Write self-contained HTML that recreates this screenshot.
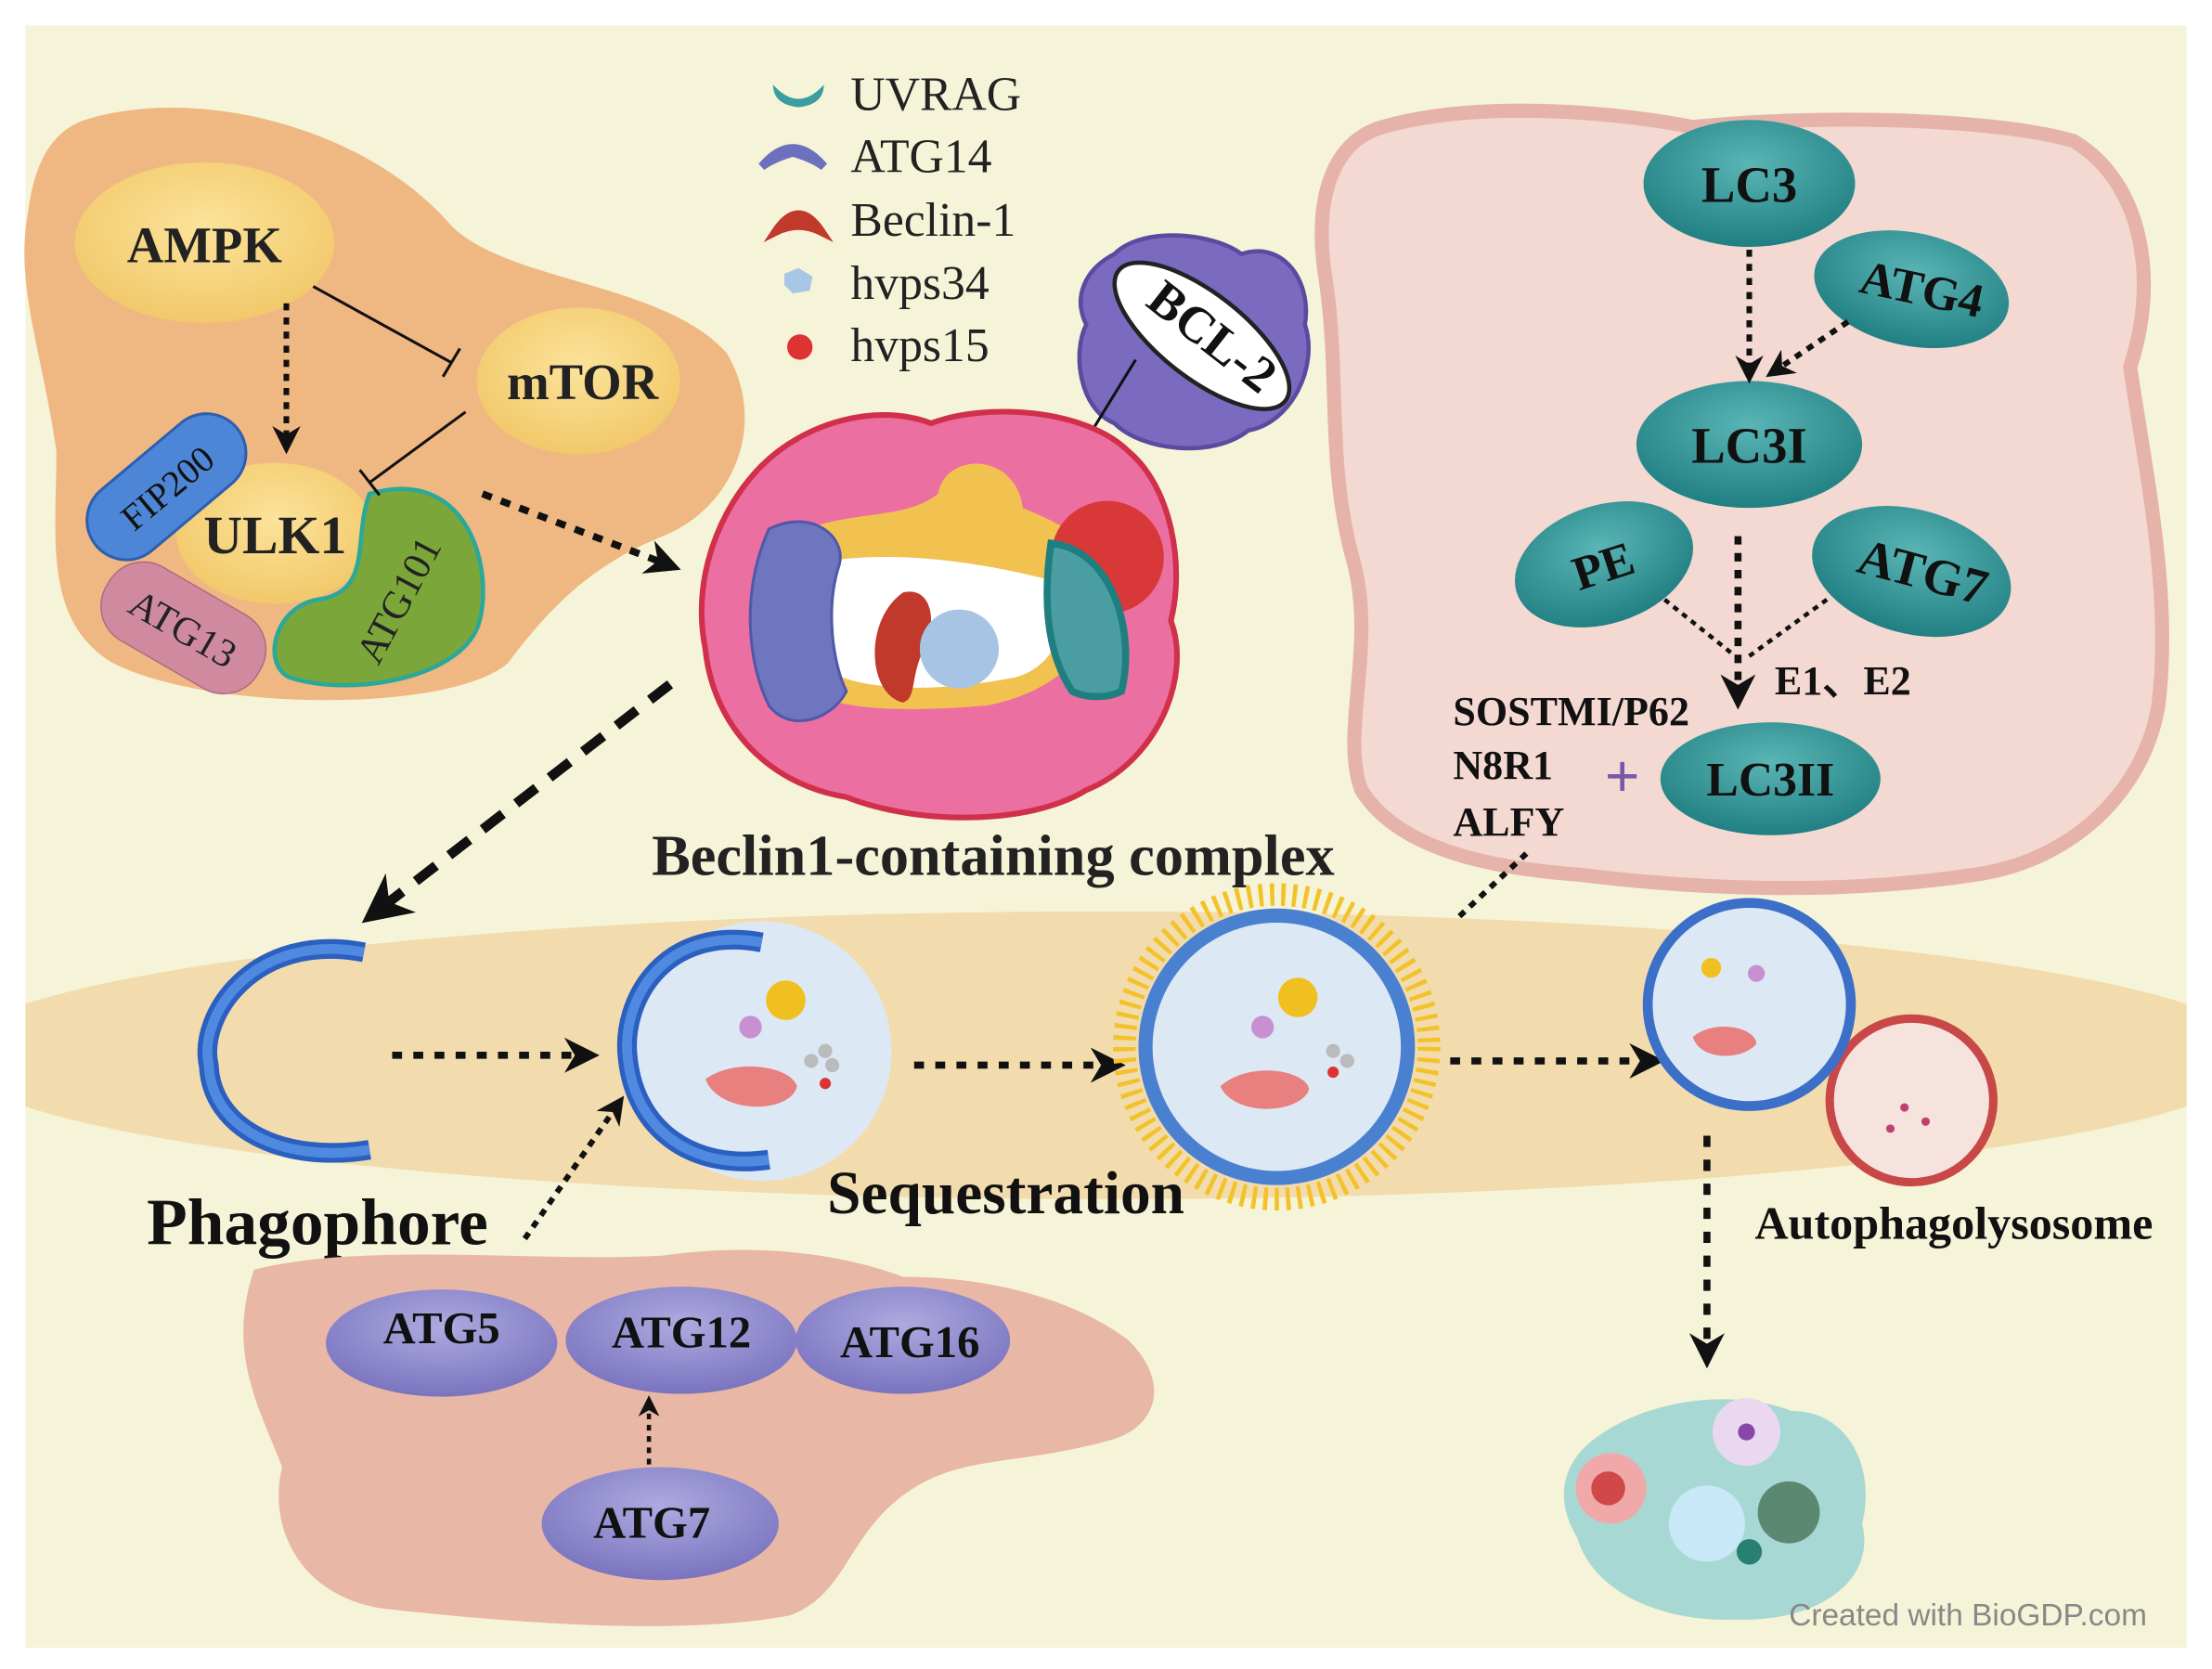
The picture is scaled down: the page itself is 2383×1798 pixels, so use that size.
<!DOCTYPE html>
<html><head><meta charset="utf-8"><style>
html,body{margin:0;padding:0;background:#fff}
svg{display:block}
text{font-family:"Liberation Serif",serif;font-weight:bold}
</style></head><body>
<svg width="2383" height="1798" viewBox="0 0 1568 1183" xmlns="http://www.w3.org/2000/svg">
<defs>
<marker id="ah" viewBox="0 0 10 10" refX="8" refY="5" markerWidth="5" markerHeight="5" orient="auto"><path d="M0,0 L10,5 L0,10 L3,5z" fill="#111"/></marker>
<radialGradient id="yel" cx="0.5" cy="0.4" r="0.6"><stop offset="0" stop-color="#fbe39a"/><stop offset="1" stop-color="#f2c86a"/></radialGradient>
<radialGradient id="teal" cx="0.5" cy="0.35" r="0.65"><stop offset="0" stop-color="#5ab5b5"/><stop offset="1" stop-color="#207f82"/></radialGradient>
<radialGradient id="pur" cx="0.5" cy="0.35" r="0.65"><stop offset="0" stop-color="#aeaae0"/><stop offset="1" stop-color="#7a74bf"/></radialGradient>
<clipPath id="bg"><rect x="18" y="18" width="1532" height="1150"/></clipPath>
</defs>
<rect x="0" y="0" width="1568" height="1183" fill="#fff"/>
<rect x="18" y="18" width="1532" height="1150" fill="#f6f4d8"/>

<!-- orange blob -->
<path d="M60,85 C140,60 260,90 320,160 C360,200 470,200 515,250 C545,300 520,360 470,380 C420,400 390,430 360,470 C320,505 150,505 80,470 C30,440 40,380 40,320 C30,250 10,200 20,150 C25,110 40,92 60,85z" fill="#efb882"/>
<ellipse cx="145" cy="172" rx="92" ry="57" fill="url(#yel)"/>
<text x="145" y="186" font-size="36" text-anchor="middle" fill="#222">AMPK</text>
<ellipse cx="410" cy="270" rx="72" ry="52" fill="url(#yel)"/>
<text x="413" y="283" font-size="36" text-anchor="middle" fill="#222">mTOR</text>
<ellipse cx="195" cy="378" rx="70" ry="50" fill="url(#yel)"/>
<g transform="translate(118,345) rotate(-40)"><rect x="-65" y="-28" width="130" height="56" rx="28" fill="#4d86d6" stroke="#2c5fb0" stroke-width="2"/><text x="0" y="10" font-size="26" text-anchor="middle" fill="#111" style="font-weight:normal">FIP200</text></g>
<text x="195" y="392" font-size="38" text-anchor="middle" fill="#222">ULK1</text>
<g transform="translate(130,445) rotate(30)"><rect x="-62" y="-30" width="124" height="60" rx="28" fill="#d08aa0" stroke="#b06a82"/><text x="0" y="10" font-size="28" text-anchor="middle" fill="#222" style="font-weight:normal">ATG13</text></g>
<path d="M262,350 C330,330 350,400 340,440 C330,480 250,495 205,480 C185,470 195,430 225,425 C265,420 250,380 262,350z" fill="#7ba63a" stroke="#2aa89a" stroke-width="3"/>
<text transform="translate(282,425) rotate(-62)" x="0" y="10" font-size="28" text-anchor="middle" fill="#222" style="font-weight:normal">ATG101</text>
<line x1="203" y1="215" x2="203" y2="318" stroke="#111" stroke-width="4" stroke-dasharray="5,5" marker-end="url(#ah)"/>
<line x1="222" y1="203" x2="320" y2="257" stroke="#111" stroke-width="2"/>
<line x1="314" y1="267" x2="326" y2="247" stroke="#111" stroke-width="2"/>
<line x1="330" y1="292" x2="262" y2="342" stroke="#111" stroke-width="2"/>
<line x1="255" y1="333" x2="269" y2="351" stroke="#111" stroke-width="2"/>
<line x1="342" y1="350" x2="478" y2="402" stroke="#111" stroke-width="5" stroke-dasharray="7,7" marker-end="url(#ah)"/>

<!-- legend -->
<path d="M548,60 Q566,80 584,60 Q584,74 566,76 Q548,74 548,60z" fill="#3a9ea0"/>
<text x="603" y="78" font-size="34" fill="#222" style="font-weight:normal">UVRAG</text>
<path d="M540,118 Q562,92 584,118 Q576,112 562,108 Q548,112 540,118z" fill="#6d70bd" stroke="#6d70bd" stroke-width="6"/>
<text x="603" y="122" font-size="34" fill="#222" style="font-weight:normal">ATG14</text>
<path d="M550,164 Q566,140 582,164 Q566,156 550,164z" fill="#c0392b" stroke="#c0392b" stroke-width="6"/>
<text x="603" y="167" font-size="34" fill="#222" style="font-weight:normal">Beclin-1</text>
<polygon points="556,194 566,190 576,196 574,206 562,208 556,202" fill="#a8c6e6"/>
<text x="603" y="212" font-size="34" fill="#222" style="font-weight:normal">hvps34</text>
<circle cx="567" cy="246" r="9" fill="#d33"/>
<text x="603" y="256" font-size="34" fill="#222" style="font-weight:normal">hvps15</text>

<!-- BCL-2 -->
<path d="M790,180 C810,160 860,165 880,180 C910,170 930,200 925,230 C935,260 915,300 885,305 C860,325 810,320 790,300 C765,290 760,250 770,230 C760,210 770,190 790,180z" fill="#7a6ac0" stroke="#5a4aa0" stroke-width="3"/>
<ellipse cx="852" cy="238" rx="75" ry="30" transform="rotate(38 852 238)" fill="#fff" stroke="#222" stroke-width="3"/>
<text transform="translate(852,248) rotate(38)" x="0" y="0" font-size="36" text-anchor="middle" fill="#111">BCL-2</text>
<line x1="805" y1="255" x2="770" y2="312" stroke="#111" stroke-width="2"/>
<line x1="760" y1="306" x2="780" y2="318" stroke="#111" stroke-width="2"/>

<!-- Beclin complex -->
<path d="M540,330 C570,300 620,285 660,300 C700,285 770,290 800,320 C830,345 840,400 830,440 C845,480 820,540 770,560 C730,585 650,585 600,565 C540,555 505,510 500,460 C490,410 510,360 540,330z" fill="#ec6fa2" stroke="#d0304a" stroke-width="4"/>
<path d="M560,380 C600,360 640,370 665,350 C670,320 720,320 725,360 C760,375 790,390 780,420 C780,460 750,490 700,500 C640,505 580,505 560,480 C540,450 540,400 560,380z" fill="#f2c250"/>
<path d="M575,400 C620,390 680,395 740,410 C760,430 755,470 720,480 C660,492 600,490 580,470 C560,450 560,420 575,400z" fill="#fff"/>
<path d="M545,375 C575,360 600,380 595,400 C585,430 590,470 600,490 C590,510 560,520 545,500 C530,470 525,420 545,375z" fill="#6e76c0" stroke="#5058a8" stroke-width="2"/>
<path d="M640,420 C660,415 665,440 655,460 C645,480 650,495 640,498 C615,492 612,440 640,420z" fill="#c0392b"/>
<circle cx="680" cy="460" r="28" fill="#a8c4e4"/>
<circle cx="785" cy="395" r="40" fill="#d83838"/>
<path d="M745,385 C790,390 805,450 795,490 C785,495 770,495 760,490 C740,460 740,420 745,385z" fill="#4a9ea2" stroke="#1f7f80" stroke-width="5"/>
<text x="704" y="620" font-size="41" text-anchor="middle" fill="#222">Beclin1-containing complex</text>
<line x1="475" y1="485" x2="262" y2="650" stroke="#111" stroke-width="7" stroke-dasharray="18,12" marker-end="url(#ah)"/>

<!-- right pink region -->
<path d="M980,90 C1050,70 1150,80 1200,90 C1300,80 1420,85 1470,100 C1520,130 1530,200 1510,260 C1520,330 1540,420 1530,500 C1520,560 1470,610 1400,620 C1300,635 1200,630 1120,620 C1050,615 990,600 965,560 C950,520 975,460 960,400 C940,330 950,270 940,200 C930,140 945,100 980,90z" fill="#f3d9d1" stroke="#e5b3aa" stroke-width="10"/>
<ellipse cx="1240" cy="130" rx="75" ry="45" fill="url(#teal)"/><text x="1240" y="143" font-size="36" text-anchor="middle" fill="#111">LC3</text>
<ellipse cx="1355" cy="205" rx="70" ry="40" transform="rotate(12 1355 205)" fill="url(#teal)"/><text transform="translate(1360,216) rotate(12)" font-size="34" text-anchor="middle" fill="#111">ATG4</text>
<ellipse cx="1240" cy="315" rx="80" ry="45" fill="url(#teal)"/><text x="1240" y="328" font-size="36" text-anchor="middle" fill="#111">LC3I</text>
<ellipse cx="1137" cy="400" rx="65" ry="42" transform="rotate(-18 1137 400)" fill="url(#teal)"/><text transform="translate(1140,412) rotate(-18)" font-size="34" text-anchor="middle" fill="#111">PE</text>
<ellipse cx="1355" cy="405" rx="72" ry="44" transform="rotate(15 1355 405)" fill="url(#teal)"/><text transform="translate(1360,417) rotate(15)" font-size="36" text-anchor="middle" fill="#111">ATG7</text>
<ellipse cx="1255" cy="552" rx="78" ry="40" fill="url(#teal)"/><text x="1255" y="564" font-size="34" text-anchor="middle" fill="#111">LC3II</text>
<line x1="1240" y1="177" x2="1240" y2="268" stroke="#111" stroke-width="4" stroke-dasharray="5,5" marker-end="url(#ah)"/>
<line x1="1310" y1="228" x2="1255" y2="265" stroke="#111" stroke-width="4" stroke-dasharray="5,5" marker-end="url(#ah)"/>
<line x1="1232" y1="380" x2="1232" y2="498" stroke="#111" stroke-width="5" stroke-dasharray="6,6" marker-end="url(#ah)"/>
<line x1="1180" y1="425" x2="1230" y2="465" stroke="#111" stroke-width="3" stroke-dasharray="4,4"/>
<line x1="1295" y1="425" x2="1240" y2="465" stroke="#111" stroke-width="3" stroke-dasharray="4,4"/>
<text x="1258" y="492" font-size="29" fill="#111">E1、E2</text>
<text x="1030" y="514" font-size="29" fill="#111">SOSTMI/P62</text>
<text x="1030" y="552" font-size="29" fill="#111">N8R1</text>
<text x="1030" y="592" font-size="29" fill="#111">ALFY</text>
<text x="1150" y="565" font-size="44" text-anchor="middle" fill="#7a58a8">+</text>
<line x1="1082" y1="605" x2="1002" y2="680" stroke="#111" stroke-width="4" stroke-dasharray="5,5" marker-end="url(#ah)"/>

<!-- band -->
<g clip-path="url(#bg)"><ellipse cx="784" cy="748" rx="820" ry="102" fill="#f2dcae"/></g>
<path d="M258,675 C180,660 140,720 148,755 C150,800 200,825 262,815" fill="none" stroke="#2b5fc0" stroke-width="14"/>
<path d="M258,675 C180,660 140,720 148,755 C150,800 200,825 262,815" fill="none" stroke="#4f8ae0" stroke-width="7"/>
<line x1="278" y1="748" x2="420" y2="748" stroke="#111" stroke-width="5" stroke-dasharray="7,8" marker-end="url(#ah)"/>
<text x="225" y="882" font-size="47" text-anchor="middle" fill="#111">Phagophore</text>
<!-- sequestration -->
<circle cx="540" cy="745" r="92" fill="#dce9f4"/>
<path d="M540,668 C470,655 440,710 445,750 C450,800 490,830 545,822" fill="none" stroke="#2b5fc0" stroke-width="14"/>
<path d="M540,668 C470,655 440,710 445,750 C450,800 490,830 545,822" fill="none" stroke="#4f8ae0" stroke-width="7"/>
<circle cx="557" cy="709" r="14" fill="#f0c020"/><circle cx="532" cy="728" r="8" fill="#c890d0"/>
<path d="M500,765 C520,750 560,755 565,770 C560,790 510,790 500,765z" fill="#e88080"/>
<circle cx="585" cy="745" r="5" fill="#bbb"/><circle cx="575" cy="752" r="5" fill="#bbb"/><circle cx="590" cy="755" r="5" fill="#bbb"/>
<circle cx="585" cy="768" r="4" fill="#d33"/>
<line x1="648" y1="755" x2="793" y2="755" stroke="#111" stroke-width="5" stroke-dasharray="7,8" marker-end="url(#ah)"/>
<text x="713" y="860" font-size="43" text-anchor="middle" fill="#111">Sequestration</text>
<line x1="372" y1="878" x2="440" y2="780" stroke="#111" stroke-width="4" stroke-dasharray="5,5" marker-end="url(#ah)"/>
<!-- autophagosome -->
<circle cx="905" cy="742" r="108" fill="none" stroke="#f3c22a" stroke-width="16" stroke-dasharray="3,5"/>
<circle cx="905" cy="742" r="98" fill="#4a80d0"/>
<circle cx="905" cy="742" r="88" fill="#dce9f4"/>
<circle cx="920" cy="707" r="14" fill="#f0c020"/><circle cx="895" cy="728" r="8" fill="#c890d0"/>
<path d="M865,770 C885,752 925,758 928,772 C922,790 875,792 865,770z" fill="#e88080"/>
<circle cx="945" cy="745" r="5" fill="#bbb"/><circle cx="955" cy="752" r="5" fill="#bbb"/><circle cx="945" cy="760" r="4" fill="#d33"/>
<line x1="1028" y1="752" x2="1175" y2="752" stroke="#111" stroke-width="5" stroke-dasharray="7,8" marker-end="url(#ah)"/>
<!-- autophagolysosome -->
<circle cx="1355" cy="780" r="58" fill="#f6e3de" stroke="#c84848" stroke-width="6"/>
<circle cx="1240" cy="712" r="72" fill="#dce9f4" stroke="#3b6fc8" stroke-width="7"/>
<circle cx="1213" cy="686" r="7" fill="#f0c020"/><circle cx="1245" cy="690" r="6" fill="#c890d0"/>
<path d="M1200,735 C1215,722 1245,728 1245,740 C1235,752 1205,752 1200,735z" fill="#e88080"/>
<circle cx="1350" cy="785" r="3" fill="#c04070"/><circle cx="1365" cy="795" r="3" fill="#c04070"/><circle cx="1340" cy="800" r="3" fill="#c04070"/>
<text x="1385" y="878" font-size="33" text-anchor="middle" fill="#111">Autophagolysosome</text>
<line x1="1210" y1="805" x2="1210" y2="965" stroke="#111" stroke-width="5" stroke-dasharray="8,9" marker-end="url(#ah)"/>

<!-- bottom pink -->
<path d="M180,900 C260,880 380,895 470,890 C540,880 600,890 640,905 C700,905 760,920 800,950 C830,980 820,1010 790,1020 C720,1040 680,1030 640,1060 C600,1090 600,1130 560,1145 C480,1160 360,1150 270,1140 C210,1130 190,1080 200,1040 C185,1000 160,960 180,900z" fill="#e8b7a6"/>
<ellipse cx="313" cy="952" rx="82" ry="38" fill="url(#pur)"/><text x="313" y="952" font-size="32" text-anchor="middle" fill="#111">ATG5</text>
<ellipse cx="483" cy="950" rx="82" ry="38" fill="url(#pur)"/><text x="483" y="955" font-size="32" text-anchor="middle" fill="#111">ATG12</text>
<ellipse cx="640" cy="950" rx="76" ry="38" fill="url(#pur)"/><text x="645" y="962" font-size="32" text-anchor="middle" fill="#111">ATG16</text>
<ellipse cx="468" cy="1080" rx="84" ry="40" fill="url(#pur)"/><text x="462" y="1090" font-size="32" text-anchor="middle" fill="#111">ATG7</text>
<line x1="460" y1="1038" x2="460" y2="992" stroke="#111" stroke-width="3" stroke-dasharray="4,4" marker-end="url(#ah)"/>

<!-- cell cluster -->
<path d="M1130,1020 C1170,990 1230,985 1270,1000 C1310,1000 1330,1040 1320,1080 C1330,1120 1290,1150 1230,1148 C1180,1150 1130,1130 1118,1090 C1100,1060 1110,1035 1130,1020z" fill="#a8d8d4"/>
<circle cx="1142" cy="1055" r="25" fill="#f0a8a8"/><circle cx="1140" cy="1055" r="12" fill="#d04848"/>
<circle cx="1238" cy="1015" r="24" fill="#ead8f0"/><circle cx="1238" cy="1015" r="6" fill="#8848a8"/>
<circle cx="1210" cy="1080" r="27" fill="#c8e8f8"/>
<circle cx="1268" cy="1072" r="22" fill="#5a8870"/><circle cx="1240" cy="1100" r="9" fill="#2a8070"/>
<text x="1395" y="1152" font-size="22" text-anchor="middle" fill="#888" style="font-family:'Liberation Sans',sans-serif;font-weight:normal">Created with BioGDP.com</text>
</svg>
</body></html>
